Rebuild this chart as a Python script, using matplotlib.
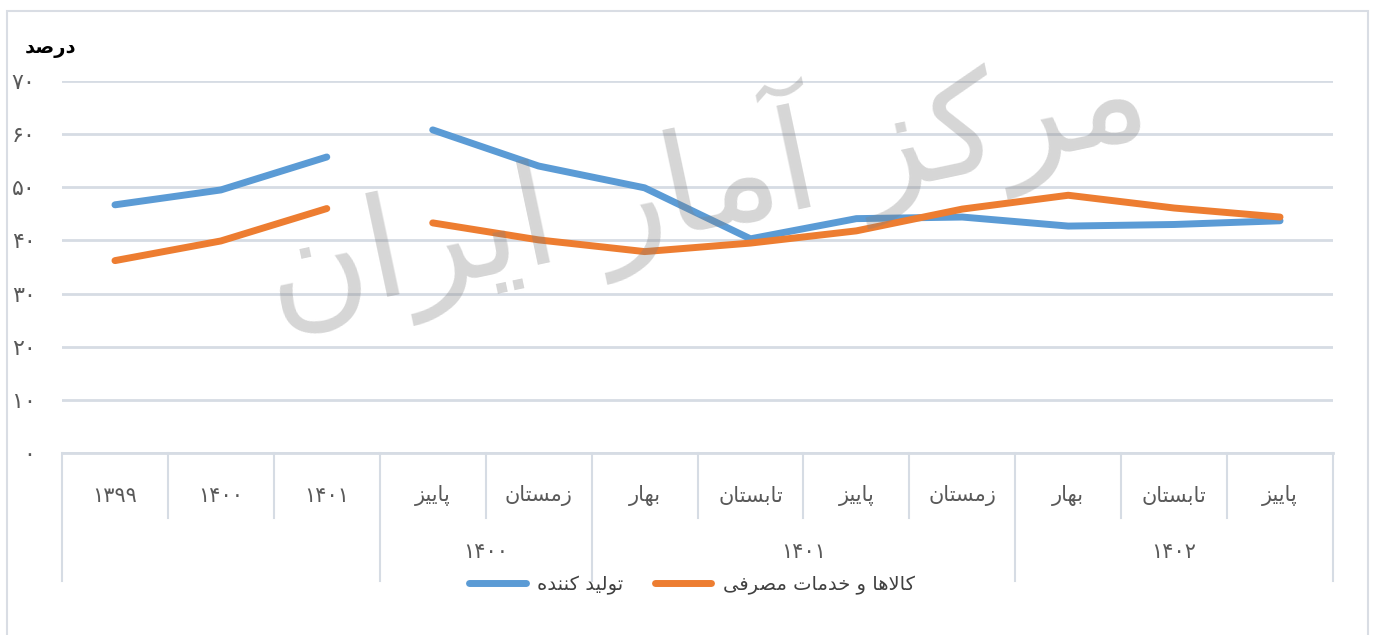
import numpy as np
import matplotlib
matplotlib.use('Agg')
import matplotlib.pyplot as plt
from matplotlib.patches import Rectangle

# data
categories = ['۱۳۹۹', '۱۴۰۰', '۱۴۰۱', 'پاییز', 'زمستان', 'بهار', 'تابستان',
              'پاییز', 'زمستان', 'بهار', 'تابستان', 'پاییز']
groups = ['', '۱۴۰۰', '۱۴۰۱', '۱۴۰۲']
group_sizes = [3, 2, 4, 3]
producer = [46.7, 49.5, 55.7, 60.8, 54.0, 49.9, 40.3, 44.1, 44.4, 42.7, 43.0, 43.7]
consumer = [36.2, 39.9, 46.0, 43.3, 40.1, 37.9, 39.5, 41.8, 45.9, 48.5, 46.1, 44.4]
series_names = ['تولید کننده', 'کالاها و خدمات مصرفی']
yticks = [0, 10, 20, 30, 40, 50, 60, 70]
split = 3  # annual points and quarterly points are drawn as separate lines
watermark = 'مرکز آمار ایران'

FA_DIGITS = str.maketrans('0123456789', '۰۱۲۳۴۵۶۷۸۹')

# minimal Persian shaping (matplotlib has no bidi / contextual forms)
FORMS = {
    'ا': ('\uFE8D', '\uFE8E', None, None),
    'آ': ('\uFE81', '\uFE82', None, None),
    'ب': ('\uFE8F', '\uFE90', '\uFE91', '\uFE92'),
    'پ': ('\uFB56', '\uFB57', '\uFB58', '\uFB59'),
    'ت': ('\uFE95', '\uFE96', '\uFE97', '\uFE98'),
    'خ': ('\uFEA5', '\uFEA6', '\uFEA7', '\uFEA8'),
    'د': ('\uFEA9', '\uFEAA', None, None),
    'ر': ('\uFEAD', '\uFEAE', None, None),
    'ز': ('\uFEAF', '\uFEB0', None, None),
    'س': ('\uFEB1', '\uFEB2', '\uFEB3', '\uFEB4'),
    'ص': ('\uFEB9', '\uFEBA', '\uFEBB', '\uFEBC'),
    'ف': ('\uFED1', '\uFED2', '\uFED3', '\uFED4'),
    'ک': ('\uFB8E', '\uFB8F', '\uFB90', '\uFB91'),
    'ل': ('\uFEDD', '\uFEDE', '\uFEDF', '\uFEE0'),
    'م': ('\uFEE1', '\uFEE2', '\uFEE3', '\uFEE4'),
    'ن': ('\uFEE5', '\uFEE6', '\uFEE7', '\uFEE8'),
    'ه': ('\uFEE9', '\uFEEA', '\uFEEB', '\uFEEC'),
    'و': ('\uFEED', '\uFEEE', None, None),
    'ی': ('\uFBFC', '\uFBFD', '\uFBFE', '\uFBFF'),
}


def joins_next(c):
    return c in FORMS and FORMS[c][2] is not None


def shape(text):
    if not any(c in FORMS for c in text):
        return text
    out = []
    i = 0
    while i < len(text):
        c = text[i]
        prev = text[i - 1] if i > 0 else ''
        nxt = text[i + 1] if i + 1 < len(text) else ''
        if c not in FORMS:
            out.append(c)
            i += 1
            continue
        from_prev = joins_next(prev)
        if c == 'ل' and nxt == 'ا':
            out.append('\uFEFC' if from_prev else '\uFEFB')
            i += 2
            continue
        to_next = joins_next(c) and nxt in FORMS
        isol, fin, init, med = FORMS[c]
        if from_prev and to_next:
            out.append(med)
        elif from_prev:
            out.append(fin)
        elif to_next:
            out.append(init)
        else:
            out.append(isol)
        i += 1
    return ''.join(out)[::-1]


plt.rcParams['font.family'] = ['DejaVu Sans']

fig = plt.figure(figsize=(13.75, 6.35), dpi=100)
W, H = 1375, 635
ax = fig.add_axes([62 / W, (H - 453) / H, (1333 - 62) / W, (453 - 81) / H])

x = np.arange(len(categories))
blue = '#5B9BD5'
orange = '#ED7D31'
line_kw = dict(lw=5, solid_capstyle='round', solid_joinstyle='round')
ax.plot(x[:split], producer[:split], color=blue, label=shape(series_names[0]), **line_kw)
ax.plot(x[split:], producer[split:], color=blue, **line_kw)
ax.plot(x[:split], consumer[:split], color=orange, label=shape(series_names[1]), **line_kw)
ax.plot(x[split:], consumer[split:], color=orange, **line_kw)

ax.set_xlim(-0.5, len(categories) - 0.5)
ax.set_ylim(0, 70)
ax.set_yticks(yticks)
ax.set_yticklabels([str(v).translate(FA_DIGITS) for v in yticks])
ax.tick_params(axis='y', length=0, pad=19, labelsize=16, labelcolor='#595959')
ax.set_xticks([])
for s in ax.spines.values():
    s.set_visible(False)
ax.grid(axis='y', color='#D6DCE4', lw=2)
ax.set_axisbelow(True)

# category box under the plot
grid_c = '#D6DCE4'
tr = ax.get_xaxis_transform()
ax.plot([-0.5, len(categories) - 0.5], [0, 0], color=grid_c, lw=2, transform=tr, clip_on=False)
short_y = -(518 - 453) / 372
long_y = -(581 - 453) / 372
bounds = np.cumsum([0] + group_sizes) - 0.5
for b in np.arange(len(categories) + 1) - 0.5:
    yb = long_y if b in bounds else short_y
    ax.plot([b, b], [0, yb], color=grid_c, lw=1.5, transform=tr, clip_on=False)

for xi, lab in zip(x, categories):
    ax.text(xi, -(496 - 453) / 372, shape(lab), transform=tr, ha='center', va='center',
            fontsize=15, color='#595959')
start = 0
for g, n in zip(groups, group_sizes):
    if g:
        ax.text(start + (n - 1) / 2, -(552 - 453) / 372, g, transform=tr, ha='center',
                va='center', fontsize=15, color='#595959')
    start += n

# faint watermark drawn over the plot
fig.text(705 / W, (H - 180) / H, shape(watermark), ha='center', va='center', fontsize=100,
         rotation=12, color='#808080', alpha=0.32, zorder=10)

fig.text(50 / W, (H - 48) / H, shape('درصد'), ha='center', va='center', fontsize=14,
         fontweight='bold', color='black')

fig.legend(loc='center', bbox_to_anchor=(692 / W, (H - 585) / H), ncol=2, frameon=False,
           fontsize=14, handlelength=2.9, handletextpad=0.6, columnspacing=1.6,
           labelcolor='#404040')

fig.patches.append(Rectangle((7 / W, -5 / H), (1368 - 7) / W, (H - 11 + 5) / H,
                             transform=fig.transFigure, fill=False, ec='#D9DDE4', lw=1.5))

fig.savefig('out.png', dpi=100)
